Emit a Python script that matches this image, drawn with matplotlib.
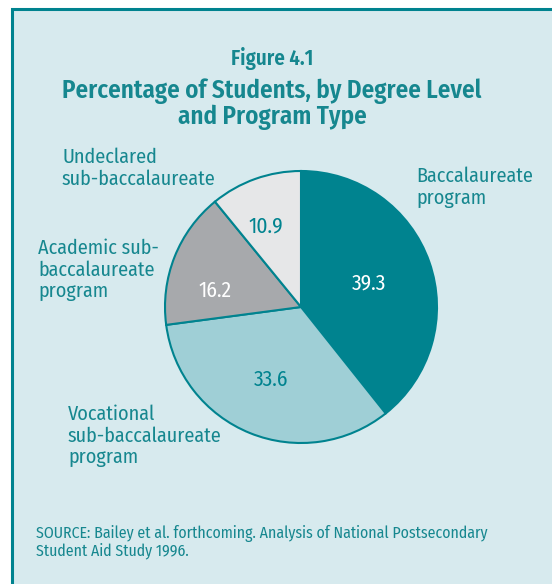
"""Figura 4.1 — porcentaje de estudiantes por nivel de grado y tipo de programa."""
import numpy as np
import matplotlib.pyplot as plt
from matplotlib.patches import Rectangle

# datos (sentido horario desde arriba)
labels = ["Baccalaureate\nprogram",
          "Vocational\nsub-baccalaureate\nprogram",
          "Academic sub-\nbaccalaureate\nprogram",
          "Undeclared\nsub-baccalaureate"]
values = [39.3, 33.6, 16.2, 10.9]

TEAL = "#00838f"
TXT = "#16878f"
BG = "#d7eaee"
colors = [TEAL, "#9fcfd6", "#a7a9ac", "#e6e7e8"]
num_colors = ["white", TEAL, "white", TEAL]

plt.rcParams["font.family"] = ["Fira Sans Condensed", "DejaVu Sans"]

W, H = 552, 584
fig = plt.figure(figsize=(W / 100, H / 100), dpi=100)
fig.patch.set_facecolor("white")

# fondo: eje en píxeles que cubre toda la figura
bg = fig.add_axes([0, 0, 1, 1], zorder=-1)
bg.set_xlim(0, W)
bg.set_ylim(H, 0)
bg.axis("off")
bg.add_patch(Rectangle((11.5, 8.5), 700, 700, facecolor=BG, edgecolor=TEAL, lw=2.2))


def fx(px):
    return px / W


def fy(py):
    return 1 - py / H


# torta
cx, cy, r = 301, 307, 136
ax = fig.add_axes([fx(cx - r), fy(cy + r), 2 * r / W, 2 * r / H])
wedges, _ = ax.pie(values, colors=colors, startangle=90, counterclock=False,
                   wedgeprops=dict(edgecolor=TEAL, linewidth=1.5))
ax.set_xlim(-1, 1)
ax.set_ylim(-1, 1)

rad = [0.53, 0.58, 0.64, 0.65]
nudge = [0, 0, 11, 4]
for w, v, c, rr, dn in zip(wedges, values, num_colors, rad, nudge):
    ang = np.deg2rad((w.theta1 + w.theta2) / 2 + dn)
    ax.text(rr * np.cos(ang), rr * np.sin(ang), f"{v:.1f}", color=c,
            fontsize=15.5, ha="center", va="center")

# títulos
fig.text(fx(272), fy(59), "Figure 4.1", color=TXT, fontsize=15,
         fontweight="semibold", ha="center", va="center")
fig.text(fx(272), fy(104), "Percentage of Students, by Degree Level\nand Program Type",
         color=TXT, fontsize=18, fontweight="semibold", ha="center", va="center",
         linespacing=1.0)

# etiquetas de categorías
lab_pos = [(416, 167), (68, 405), (38, 239), (62, 148)]
for lab, (x, y) in zip(labels, lab_pos):
    fig.text(fx(x), fy(y), lab, color=TXT, fontsize=14.5, ha="left", va="top",
             linespacing=1.12)

fig.text(fx(36), fy(525), "SOURCE: Bailey et al. forthcoming. Analysis of National Postsecondary\n"
         "Student Aid Study 1996.", color=TXT, fontsize=11.4, ha="left", va="top",
         linespacing=1.0)

fig.savefig("out.png", dpi=100, facecolor=fig.get_facecolor())
